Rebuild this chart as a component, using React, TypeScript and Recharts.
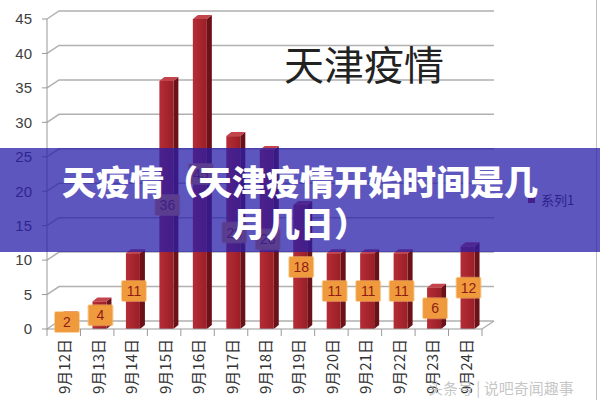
import React from "react";
import {
  BarChart,
  Bar,
  XAxis,
  YAxis,
  CartesianGrid,
  LabelList,
} from "recharts";

const dates = [
  "9月12日", "9月13日", "9月14日", "9月15日", "9月16日", "9月17日", "9月18日",
  "9月19日", "9月20日", "9月21日", "9月22日", "9月23日", "9月24日",
];
const cases = [2, 4, 11, 36, 45, 28, 26, 18, 11, 11, 11, 6, 12];
const yTicks = [0, 5, 10, 15, 20, 25, 30, 35, 40, 45];
const seriesName = "系列1";

const data = dates.map((d, i) => ({ date: d, value: cases[i] }));

const W = 600;
const H = 400;
const M = { top: 19, right: 118, bottom: 0, left: 0 };
const X_H = 71;
const Y_W = 47;
const AXIS_Y = H - X_H;
const HALF_BAND = (W - Y_W - M.right) / dates.length / 2;
const DX = 12; // 3d depth
const DY = 8;

const cjk = '"Noto Sans CJK SC", "Noto Sans", sans-serif';
const sans = '"Liberation Sans", Arial, sans-serif';

const Bar3D = (p: any) => {
  const { x, y, width, height } = p;
  if (height <= 0) return null;
  const fx = x + 2;
  const d = 5;
  const dv = 4;
  return (
    <g>
      <polygon
        points={`${fx + width},${y} ${fx + width + d},${y - dv} ${fx + width + d},${y + height - dv} ${fx + width},${y + height}`}
        fill="#6b1218"
      />
      <polygon
        points={`${fx},${y} ${fx + d},${y - dv} ${fx + width + d},${y - dv} ${fx + width},${y}`}
        fill="#c4444c"
      />
      <rect x={fx} y={y} width={width} height={height} fill="url(#barFront)" />
    </g>
  );
};

const ValueBox = (p: any) => {
  const { x, y, width, height, value } = p;
  const cx = x + width / 2 + 3;
  const cy = y + height / 2;
  return (
    <g>
      <rect x={cx - 13} y={cy - 11} width={26} height={22} rx={2} fill="#f7b968" opacity={0.6} />
      <rect x={cx - 12} y={cy - 10} width={24} height={20} rx={1} fill="#f09a3e" />
      <text x={cx} y={cy} textAnchor="middle" dominantBaseline="central" fontSize={14} fontFamily={sans} fill="#8e1c14">
        {value}
      </text>
    </g>
  );
};

const gridLine = (p: any) => {
  const { x1, y1, x2 } = p;
  const floor = y1 > AXIS_Y - 2;
  let d = `M${x1},${y1} L${x1 + DX},${y1 - DY} L${x2 + DX},${y1 - DY}`;
  if (floor) d += ` M${x2},${y1} L${x2 + DX},${y1 - DY}`;
  return <path key={`g${y1}`} d={d} stroke="#b0b0b0" strokeWidth={1.5} fill="none" />;
};

const DateTick = (p: any) => {
  const { x, payload, index } = p;
  return (
    <g>
      <line x1={x - HALF_BAND} y1={AXIS_Y} x2={x - HALF_BAND} y2={AXIS_Y + 7} stroke="#999" />
      {index === dates.length - 1 && (
        <line x1={x + HALF_BAND} y1={AXIS_Y} x2={x + HALF_BAND} y2={AXIS_Y + 7} stroke="#999" />
      )}
      <text
        transform={`translate(${x},${AXIS_Y + 10}) rotate(-90)`}
        textAnchor="end"
        dominantBaseline="central"
        fontSize={15}
        fontFamily={cjk}
        fill="#333"
      >
        {payload.value}
      </text>
    </g>
  );
};

export default function App() {
  return (
    <div style={{ position: "absolute", left: 0, top: 0, width: W, height: H, background: "#fff", overflow: "hidden" }}>
      <BarChart width={W} height={H} data={data} margin={M}>
        <defs>
          <linearGradient id="barFront" x1="0" y1="0" x2="1" y2="0">
            <stop offset="0%" stopColor="#b52d36" />
            <stop offset="100%" stopColor="#9a1e27" />
          </linearGradient>
        </defs>
        <CartesianGrid vertical={false} horizontal={gridLine} />
        <XAxis
          dataKey="date"
          interval={0}
          tickLine={false}
          axisLine={{ stroke: "#999" }}
          tick={<DateTick />}
          height={X_H}
        />
        <YAxis
          width={Y_W}
          domain={[0, 45]}
          ticks={yTicks}
          interval={0}
          tickSize={5}
          tickMargin={10}
          axisLine={{ stroke: "#999" }}
          tickLine={{ stroke: "#999" }}
          tick={{ fontSize: 15, fill: "#404040", fontFamily: sans }}
        />
        <Bar dataKey="value" name={seriesName} barSize={14} shape={<Bar3D />} isAnimationActive={false}>
          <LabelList dataKey="value" content={<ValueBox />} />
        </Bar>
      </BarChart>

      <div style={{ position: "absolute", left: 284, top: 42, fontFamily: cjk, fontSize: 40, lineHeight: "42px", color: "#222" }}>
        天津疫情
      </div>

      <div style={{ position: "absolute", left: 528, top: 190, display: "flex", alignItems: "center", fontFamily: cjk, fontSize: 13, color: "#333" }}>
        <span style={{ width: 7, height: 7, background: "#a52830", marginRight: 6, display: "inline-block" }} />
        {seriesName}
      </div>

      <div style={{ position: "absolute", right: 3, top: 0, width: 1, height: H, background: "#c0c0c0" }} />

      <div
        style={{
          position: "absolute",
          left: 0,
          top: 148,
          width: W,
          height: 104,
          background: "rgba(40, 30, 170, 0.75)",
          color: "#fff",
          fontFamily: cjk,
          fontWeight: 900,
          fontSize: 34,
          lineHeight: "42px",
          textAlign: "center",
          paddingTop: 12,
          boxSizing: "border-box",
        }}
      >
        <div>天疫情（天津疫情开始时间是几</div>
        <div>月几日）</div>
      </div>

      <div style={{ position: "absolute", left: 428, top: 377, fontFamily: cjk, fontSize: 15, color: "rgba(190,190,190,0.9)" }}>
        头条号 | 说吧奇闻趣事
      </div>
    </div>
  );
}
